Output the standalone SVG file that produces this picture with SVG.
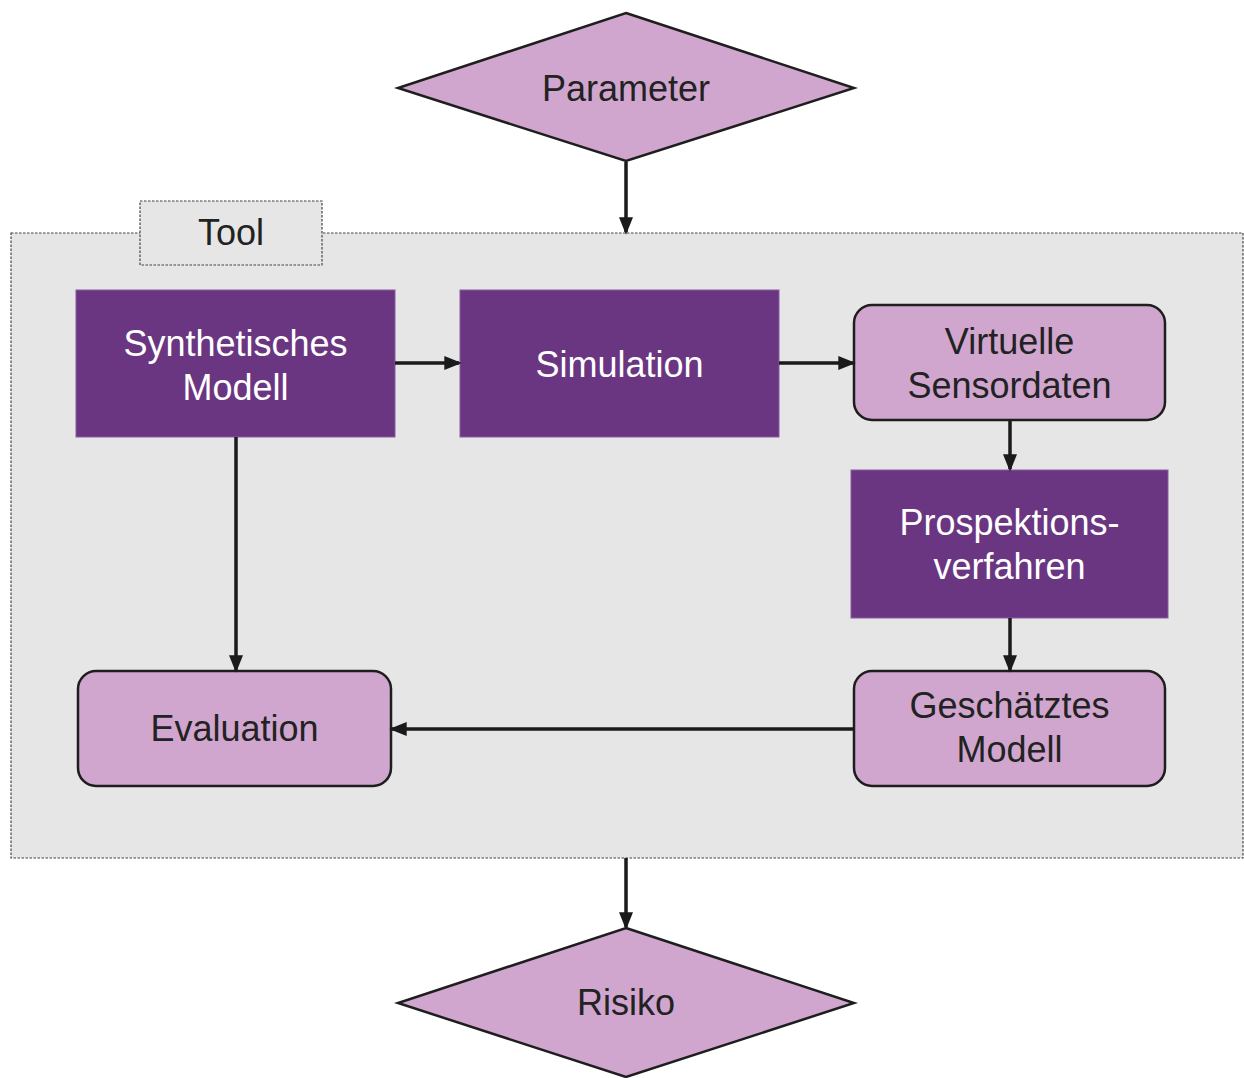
<svg xmlns="http://www.w3.org/2000/svg" width="1244" height="1078" viewBox="0 0 1244 1078">
<defs>
<style>
.dark{fill:#6b3681;stroke:#8a5a9c;stroke-width:1}
.light{fill:#d0a6cf;stroke:#1e1e1e;stroke-width:2.5}
.tw{font-family:"Liberation Sans",Arial,sans-serif;font-size:36px;fill:#ffffff;text-anchor:middle}
.tb{font-family:"Liberation Sans",Arial,sans-serif;font-size:36px;fill:#222222;text-anchor:middle}
.con{stroke:#1a1a1a;stroke-width:3.5;fill:none;marker-end:url(#ah)}
.dash{fill:#e6e6e6;stroke:#444;stroke-width:1.2;stroke-dasharray:2.5 1.5}
</style>
<marker id="ah" markerWidth="5" markerHeight="4" refX="4.2" refY="2" orient="auto" markerUnits="strokeWidth">
<path d="M0,0 L5,2 L0,4 z" fill="#1a1a1a"/>
</marker>
</defs>
<rect width="1244" height="1078" fill="#ffffff"/>
<g id="tool">
<rect class="dash" x="11" y="233" width="1232" height="625"/>
<rect class="dash" x="140" y="201" width="182" height="64"/>
<text class="tb" x="231" y="245">Tool</text>
</g>
<g id="parameter">
<polygon class="light" points="626,13 854,88 626,161 398,88"/>
<text class="tb" x="626" y="101">Parameter</text>
</g>
<g id="synthetisches-modell">
<rect class="dark" x="76" y="290" width="319" height="147"/>
<text class="tw" x="235.5" y="356">Synthetisches</text>
<text class="tw" x="235.5" y="400">Modell</text>
</g>
<g id="simulation">
<rect class="dark" x="460" y="290" width="319" height="147"/>
<text class="tw" x="619.5" y="377">Simulation</text>
</g>
<g id="virtuelle-sensordaten">
<rect class="light" x="854" y="305" width="311" height="115" rx="18"/>
<text class="tb" x="1009.5" y="354">Virtuelle</text>
<text class="tb" x="1009.5" y="398">Sensordaten</text>
</g>
<g id="prospektionsverfahren">
<rect class="dark" x="851" y="470" width="317" height="148"/>
<text class="tw" x="1009.5" y="535">Prospektions-</text>
<text class="tw" x="1009.5" y="579">verfahren</text>
</g>
<g id="geschaetztes-modell">
<rect class="light" x="854" y="671" width="311" height="115" rx="18"/>
<text class="tb" x="1009.5" y="718">Geschätztes</text>
<text class="tb" x="1009.5" y="762">Modell</text>
</g>
<g id="evaluation">
<rect class="light" x="78" y="671" width="313" height="115" rx="18"/>
<text class="tb" x="234.5" y="741">Evaluation</text>
</g>
<g id="risiko">
<polygon class="light" points="626,928 854,1003 626,1077 398,1003"/>
<text class="tb" x="626" y="1015">Risiko</text>
</g>
<g id="connectors">
<line class="con" x1="626" y1="162" x2="626" y2="232"/>
<line class="con" x1="395" y1="363" x2="459" y2="363"/>
<line class="con" x1="779" y1="363" x2="853" y2="363"/>
<line class="con" x1="1010" y1="421" x2="1010" y2="469"/>
<line class="con" x1="1010" y1="618" x2="1010" y2="670"/>
<line class="con" x1="854" y1="729" x2="392" y2="729"/>
<line class="con" x1="236" y1="437" x2="236" y2="670"/>
<line class="con" x1="626" y1="858" x2="626" y2="927"/>
</g>
</svg>
